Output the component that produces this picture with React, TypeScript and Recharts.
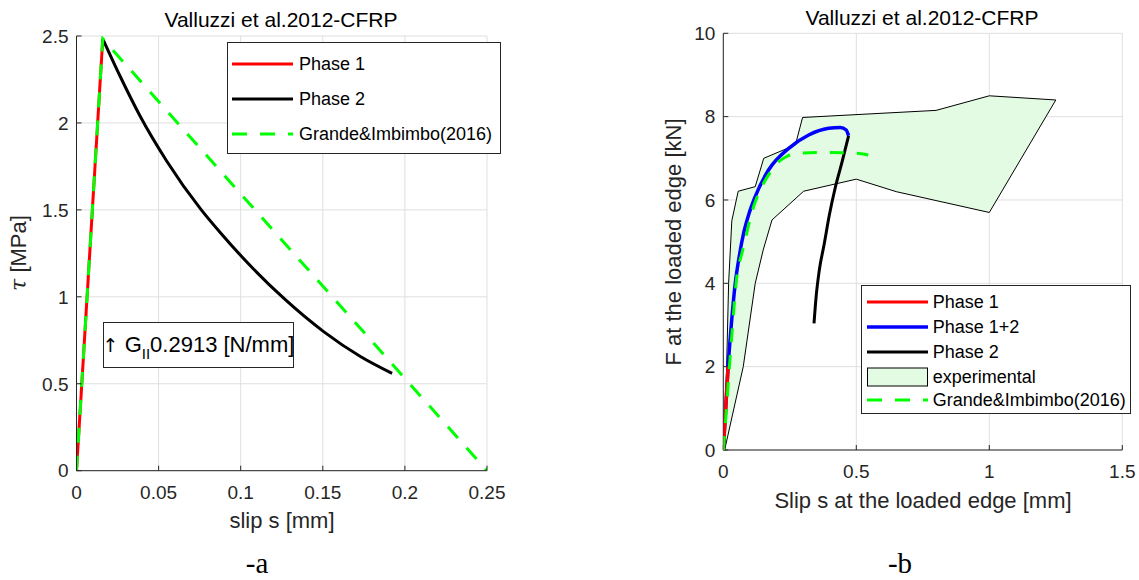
import { ComposedChart, Line, Scatter, XAxis, YAxis, CartesianGrid } from 'recharts'

// ---- panel a: bond-slip law ----
const SLIP_TICKS_A = [0, 0.05, 0.1, 0.15, 0.2, 0.25]
const TAU_TICKS = [0, 0.5, 1, 1.5, 2, 2.5]

const phase1A = [
  { x: 0, y: 0 },
  { x: 0.016, y: 2.484 },
]

const phase2A = [
  { x: 0.016, y: 2.484 },
  { x: 0.0265, y: 2.27 },
  { x: 0.0387, y: 2.04 },
  { x: 0.055, y: 1.78 },
  { x: 0.076, y: 1.5 },
  { x: 0.0875, y: 1.37 },
  { x: 0.1078, y: 1.16 },
  { x: 0.127, y: 0.985 },
  { x: 0.1505, y: 0.8 },
  { x: 0.1729, y: 0.657 },
  { x: 0.1922, y: 0.56 },
]

const grandeA = [
  { x: 0, y: 0 },
  { x: 0.016, y: 2.484 },
  { x: 0.25, y: 0 },
]

// ---- panel b: load-slip curves ----
const SLIP_TICKS_B = [0, 0.5, 1, 1.5]
const FORCE_TICKS = [0, 2, 4, 6, 8, 10]

const experimental = [
  { x: 0.005, y: 0 },
  { x: 0.02, y: 4.0 },
  { x: 0.032, y: 5.5 },
  { x: 0.056, y: 6.21 },
  { x: 0.12, y: 6.32 },
  { x: 0.152, y: 7.0 },
  { x: 0.271, y: 7.32 },
  { x: 0.298, y: 7.98 },
  { x: 0.8, y: 8.15 },
  { x: 1.0, y: 8.5 },
  { x: 1.25, y: 8.4 },
  { x: 1.0, y: 5.7 },
  { x: 0.65, y: 6.2 },
  { x: 0.5, y: 6.5 },
  { x: 0.302, y: 6.21 },
  { x: 0.183, y: 5.52 },
  { x: 0.15, y: 4.8 },
  { x: 0.12, y: 4.0 },
  { x: 0.075, y: 2.0 },
]

const phase1B = [
  { x: 0, y: 0 },
  { x: 0.018, y: 2.0 },
]

const phase12B = [
  { x: 0, y: 0 },
  { x: 0.018, y: 2.0 },
  { x: 0.03, y: 3.0 },
  { x: 0.045, y: 4.0 },
  { x: 0.06, y: 4.65 },
  { x: 0.077, y: 5.22 },
  { x: 0.097, y: 5.68 },
  { x: 0.12, y: 6.08 },
  { x: 0.17, y: 6.72 },
  { x: 0.246, y: 7.24 },
  { x: 0.321, y: 7.56 },
  { x: 0.396, y: 7.72 },
  { x: 0.44, y: 7.74 },
  { x: 0.462, y: 7.68 },
  { x: 0.471, y: 7.54 },
]

const phase2B = [
  { x: 0.341, y: 3.04 },
  { x: 0.349, y: 3.68 },
  { x: 0.361, y: 4.32 },
  { x: 0.379, y: 4.93 },
  { x: 0.399, y: 5.65 },
  { x: 0.421, y: 6.3 },
  { x: 0.446, y: 6.9 },
  { x: 0.471, y: 7.54 },
]

const grandeB = [
  { x: 0, y: 0 },
  { x: 0.012, y: 1.0 },
  { x: 0.023, y: 2.0 },
  { x: 0.035, y: 3.0 },
  { x: 0.048, y: 4.0 },
  { x: 0.073, y: 4.8 },
  { x: 0.088, y: 5.2 },
  { x: 0.101, y: 5.56 },
  { x: 0.12, y: 5.95 },
  { x: 0.145, y: 6.32 },
  { x: 0.175, y: 6.65 },
  { x: 0.202, y: 6.88 },
  { x: 0.24, y: 7.05 },
  { x: 0.283, y: 7.12 },
  { x: 0.4, y: 7.14 },
  { x: 0.5, y: 7.12 },
  { x: 0.545, y: 7.08 },
]

const AXIS = '#262626'
const GRID = '#dfdfdf'
const DASH = '15 13'
const SANS = '"Liberation Sans", Arial, Helvetica, sans-serif'

const tickStyle = { fill: AXIS, fontSize: 19 }
const noMarker = () => <g />

function Txt({ x, y, size, children, rotate = false, color = AXIS }: any) {
  return (
    <div
      style={{
        position: 'absolute',
        left: x,
        top: y,
        transform: `translate(-50%, -50%)${rotate ? ' rotate(-90deg)' : ''}`,
        whiteSpace: 'nowrap',
        lineHeight: 1,
        fontSize: size,
        color,
      }}
    >
      {children}
    </div>
  )
}

function Sample({ color, dashed, width = 3 }: any) {
  return (
    <svg width={61} height={12} style={{ display: 'block' }}>
      <line
        x1={0}
        y1={6}
        x2={61}
        y2={6}
        stroke={color}
        strokeWidth={width}
        strokeDasharray={dashed ? DASH : undefined}
      />
    </svg>
  )
}

function LegendRow({ top, sampleLeft, textLeft, sample, label }: any) {
  return (
    <div style={{ position: 'absolute', top: top - 9, left: 0, height: 18, width: '100%' }}>
      <div style={{ position: 'absolute', left: sampleLeft, top: 3 }}>{sample}</div>
      <div style={{ position: 'absolute', left: textLeft, top: 0, lineHeight: '18px', fontSize: 18, color: '#000' }}>
        {label}
      </div>
    </div>
  )
}

// the shaded experimental band is drawn from the scatter's own pixel points
function ExperimentalPatch(props: any) {
  const pts = (props.points || []).map((p: any) => `${p.x},${p.y}`).join(' ')
  return <polygon points={pts} fill="#e3fbe3" stroke="#000" strokeWidth={1} />
}

function PanelA() {
  return (
    <div style={{ position: 'absolute', left: 0, top: 0, width: 520, height: 540 }}>
      <ComposedChart width={520} height={540} margin={{ top: 36, right: 33, left: 16.5, bottom: 29.3 }}>
        <CartesianGrid stroke={GRID} />
        <XAxis
          dataKey="x"
          type="number"
          domain={[0, 0.25]}
          ticks={SLIP_TICKS_A}
          interval={0}
          allowDataOverflow
          height={40}
          tickSize={-5}
          tickMargin={20}
          stroke={AXIS}
          tick={tickStyle}
        />
        <XAxis
          xAxisId="top"
          orientation="top"
          dataKey="x"
          type="number"
          domain={[0, 0.25]}
          ticks={SLIP_TICKS_A}
          interval={0}
          height={0}
          tickSize={-5}
          tick={false}
          stroke={AXIS}
        />
        <YAxis
          type="number"
          domain={[0, 2.5]}
          ticks={TAU_TICKS}
          interval={0}
          allowDataOverflow
          width={60}
          tickSize={-5}
          tickMargin={13}
          stroke={AXIS}
          tick={tickStyle}
        />
        <YAxis
          yAxisId="right"
          orientation="right"
          type="number"
          domain={[0, 2.5]}
          ticks={TAU_TICKS}
          interval={0}
          width={0}
          tickSize={-5}
          tick={false}
          stroke={AXIS}
        />
        <Line data={phase1A} dataKey="y" type="linear" stroke="#ff0000" strokeWidth={3} dot={false} isAnimationActive={false} />
        <Line data={phase2A} dataKey="y" type="monotone" stroke="#000000" strokeWidth={3} dot={false} isAnimationActive={false} />
        <Line
          data={grandeA}
          dataKey="y"
          type="linear"
          stroke="#00ff00"
          strokeWidth={3}
          strokeDasharray={DASH}
          dot={false}
          isAnimationActive={false}
        />
      </ComposedChart>
    </div>
  )
}

function PanelB() {
  return (
    <div style={{ position: 'absolute', left: 640, top: 0, width: 499, height: 540 }}>
      <ComposedChart width={499} height={540} margin={{ top: 33.3, right: 16.7, left: 23.3, bottom: 50 }}>
        <CartesianGrid stroke={GRID} />
        <XAxis
          dataKey="x"
          type="number"
          domain={[0, 1.5]}
          ticks={SLIP_TICKS_B}
          interval={0}
          allowDataOverflow
          height={40}
          tickSize={-5}
          tickMargin={20}
          stroke={AXIS}
          tick={tickStyle}
        />
        <XAxis
          xAxisId="top"
          orientation="top"
          dataKey="x"
          type="number"
          domain={[0, 1.5]}
          ticks={SLIP_TICKS_B}
          interval={0}
          height={0}
          tickSize={-5}
          tick={false}
          stroke={AXIS}
        />
        <YAxis
          type="number"
          domain={[0, 10]}
          ticks={FORCE_TICKS}
          interval={0}
          allowDataOverflow
          width={60}
          tickSize={-5}
          tickMargin={13}
          stroke={AXIS}
          tick={tickStyle}
        />
        <YAxis
          yAxisId="right"
          orientation="right"
          type="number"
          domain={[0, 10]}
          ticks={FORCE_TICKS}
          interval={0}
          width={0}
          tickSize={-5}
          tick={false}
          stroke={AXIS}
        />
        {/* all series as scatters so they stack in this order above the band */}
        <Scatter
          data={experimental}
          dataKey="y"
          fill="none"
          line={ExperimentalPatch}
          lineType="joint"
          shape={noMarker}
          isAnimationActive={false}
        />
        <Scatter
          data={phase12B}
          dataKey="y"
          fill="none"
          line={{ stroke: '#0000ff', strokeWidth: 3.5 }}
          lineType="joint"
          lineJointType="monotone"
          shape={noMarker}
          isAnimationActive={false}
        />
        <Scatter
          data={phase1B}
          dataKey="y"
          fill="none"
          line={{ stroke: '#ff0000', strokeWidth: 3.5 }}
          lineType="joint"
          shape={noMarker}
          isAnimationActive={false}
        />
        <Scatter
          data={phase2B}
          dataKey="y"
          fill="none"
          line={{ stroke: '#000000', strokeWidth: 3 }}
          lineType="joint"
          lineJointType="monotone"
          shape={noMarker}
          isAnimationActive={false}
        />
        <Scatter
          data={grandeB}
          dataKey="y"
          fill="none"
          line={{ stroke: '#00ff00', strokeWidth: 3, strokeDasharray: '14 13' }}
          lineType="joint"
          lineJointType="monotone"
          shape={noMarker}
          isAnimationActive={false}
        />
      </ComposedChart>
    </div>
  )
}

export default function App() {
  return (
    <div
      style={{
        position: 'absolute',
        left: 0,
        top: 0,
        width: 1139,
        height: 580,
        background: '#fff',
        fontFamily: SANS,
        overflow: 'hidden',
      }}
    >
      <PanelA />
      <PanelB />

      {/* titles and axis labels */}
      <Txt x={281} y={19} size={21} color="#000">Valluzzi et al.2012-CFRP</Txt>
      <Txt x={922} y={17} size={21} color="#000">Valluzzi et al.2012-CFRP</Txt>
      <Txt x={282} y={521} size={22}>slip s [mm]</Txt>
      <Txt x={923} y={501} size={22}>Slip s at the loaded edge [mm]</Txt>
      <Txt x={19} y={253} size={22} rotate>
        <span style={{ fontFamily: '"DejaVu Serif", serif', fontStyle: 'italic' }}>τ</span> [MPa]
      </Txt>
      <Txt x={674} y={242} size={22} rotate>F at the loaded edge [kN]</Txt>

      {/* G_II annotation */}
      <div
        style={{
          position: 'absolute',
          left: 103,
          top: 321.7,
          width: 191,
          height: 46.6,
          boxSizing: 'border-box',
          border: `1px solid ${AXIS}`,
          background: '#fff',
          display: 'flex',
          alignItems: 'center',
          justifyContent: 'center',
          fontSize: 22,
          color: '#000',
          whiteSpace: 'nowrap',
        }}
      >
        <span style={{ fontFamily: '"DejaVu Sans", sans-serif', fontSize: 19, color: '#000' }}>↑</span>
        <span>&nbsp;G</span>
        <span style={{ fontSize: 15, position: 'relative', top: 9 }}>II</span>
        <span>0.2913 [N/mm]</span>
      </div>

      {/* legend a */}
      <div
        style={{
          position: 'absolute',
          left: 227,
          top: 41.7,
          width: 274,
          height: 112.3,
          boxSizing: 'border-box',
          border: `1px solid ${AXIS}`,
          background: '#fff',
        }}
      >
        <LegendRow top={21.6} sampleLeft={4.3} textLeft={71} sample={<Sample color="#ff0000" />} label="Phase 1" />
        <LegendRow top={56.6} sampleLeft={4.3} textLeft={71} sample={<Sample color="#000000" />} label="Phase 2" />
        <LegendRow top={91.6} sampleLeft={4.3} textLeft={71} sample={<Sample color="#00ff00" dashed />} label="Grande&Imbimbo(2016)" />
      </div>

      {/* legend b */}
      <div
        style={{
          position: 'absolute',
          left: 861.3,
          top: 285,
          width: 269.4,
          height: 129.3,
          boxSizing: 'border-box',
          border: `1px solid ${AXIS}`,
          background: '#fff',
        }}
      >
        <LegendRow top={15.7} sampleLeft={5} textLeft={70.4} sample={<Sample color="#ff0000" />} label="Phase 1" />
        <LegendRow top={40.7} sampleLeft={5} textLeft={70.4} sample={<Sample color="#0000ff" width={3.5} />} label="Phase 1+2" />
        <LegendRow top={65.7} sampleLeft={5} textLeft={70.4} sample={<Sample color="#000000" />} label="Phase 2" />
        <LegendRow
          top={90.7}
          sampleLeft={5}
          textLeft={70.4}
          sample={
            <svg width={61} height={12} style={{ display: 'block', overflow: 'visible' }}>
              <rect x={0.5} y={-3} width={60} height={18} fill="#e3fbe3" stroke="#000" strokeWidth={1} />
            </svg>
          }
          label="experimental"
        />
        <LegendRow top={114.3} sampleLeft={5} textLeft={70.4} sample={<Sample color="#00ff00" dashed />} label="Grande&Imbimbo(2016)" />
      </div>

      {/* panel captions */}
      <div style={{ position: 'absolute', left: 257, top: 549, transform: 'translateX(-50%)', fontFamily: '"Liberation Serif", "Times New Roman", serif', fontSize: 29, lineHeight: 1, color: '#000' }}>
        -a
      </div>
      <div style={{ position: 'absolute', left: 900, top: 549, transform: 'translateX(-50%)', fontFamily: '"Liberation Serif", "Times New Roman", serif', fontSize: 29, lineHeight: 1, color: '#000' }}>
        -b
      </div>
    </div>
  )
}
